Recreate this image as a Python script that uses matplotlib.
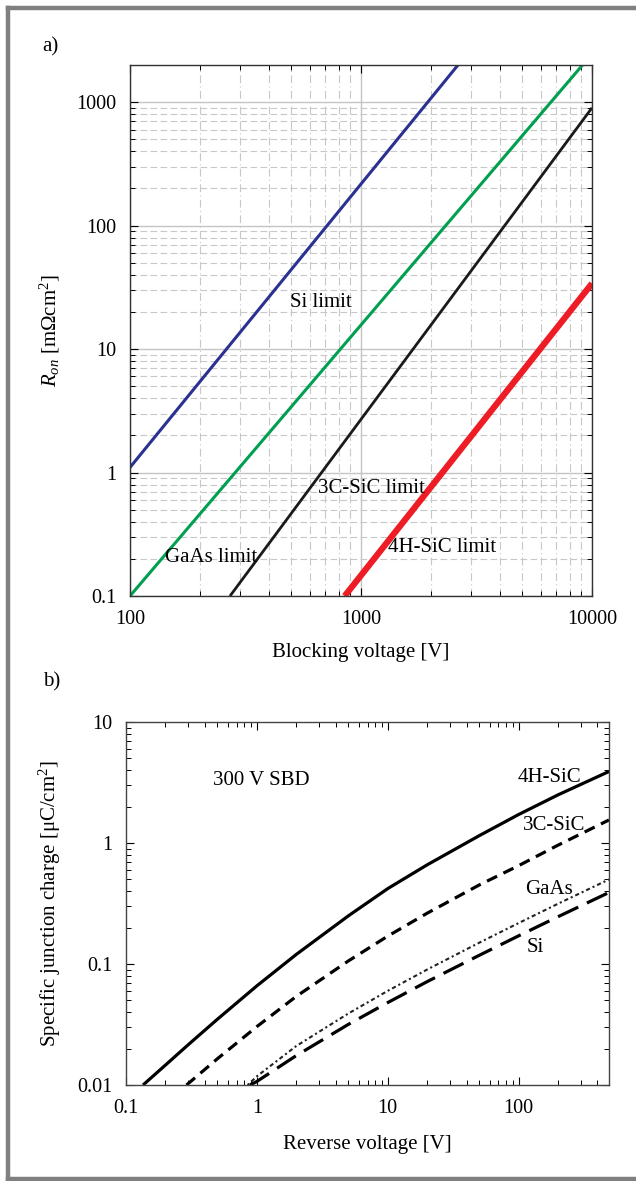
import matplotlib
matplotlib.use("Agg")
import matplotlib.pyplot as plt
from matplotlib.lines import Line2D
from matplotlib.ticker import FuncFormatter, NullFormatter

plt.rcParams["font.family"] = ["Liberation Serif", "DejaVu Serif"]
plt.rcParams["mathtext.fontset"] = "custom"
plt.rcParams["mathtext.rm"] = "Liberation Serif"
plt.rcParams["mathtext.it"] = "Liberation Serif:italic"

# a) specific on-resistance limits (end points of the straight lines)
si_v = [100, 2630]
si_r = [1.1, 2000]
gaas_v = [100, 9100]
gaas_r = [0.1, 2000]
sic3c_v = [271, 10000]
sic3c_r = [0.1, 900]
sic4h_v = [850, 10000]
sic4h_r = [0.1, 34]

# b) specific junction charge vs reverse voltage, 300 V SBD
q4h_v = [0.135, 0.2, 0.3, 0.5, 1, 2, 5, 10, 20, 50, 100, 200, 490]
q4h = [0.010, 0.0146, 0.0216, 0.035, 0.066, 0.12, 0.25, 0.42, 0.66, 1.15, 1.72, 2.5, 3.9]
q3c_v = [0.29, 0.5, 1, 2, 5, 10, 20, 50, 100, 200, 490]
q3c = [0.010, 0.0165, 0.0304, 0.054, 0.106, 0.17, 0.263, 0.45, 0.65, 0.96, 1.55]
qgaas_v = [0.85, 1, 2, 5, 10, 20, 50, 100, 200, 490]
qgaas = [0.010, 0.0118, 0.021, 0.039, 0.060, 0.090, 0.150, 0.218, 0.315, 0.50]
qsi_v = [0.885, 1, 2, 5, 10, 20, 50, 100, 200, 490]
qsi = [0.010, 0.0107, 0.0175, 0.0317, 0.048, 0.0715, 0.118, 0.171, 0.246, 0.39]

W, H = 636, 1181
fig = plt.figure(figsize=(W / 100, H / 100), dpi=100)

# grey frame (top, left, bottom)
gray = "#808080"
fig.add_artist(Line2D([8 / W, 1.0], [1 - 8 / H, 1 - 8 / H], color=gray, lw=3.2, transform=fig.transFigure))
fig.add_artist(Line2D([8 / W, 8 / W], [1 - 8 / H, 1 - 1179 / H], color=gray, lw=3.2, transform=fig.transFigure))
fig.add_artist(Line2D([8 / W, 1.0], [1 - 1179 / H, 1 - 1179 / H], color=gray, lw=3.2, transform=fig.transFigure))

fmt = FuncFormatter(lambda v, p: "%g" % v)
tick_fs = 14.5
lab_fs = 15

# ---------------- panel a ----------------
ax1 = fig.add_axes([130 / W, 1 - 596 / H, 462 / W, 531 / H])
ax1.set_xscale("log")
ax1.set_yscale("log")
ax1.set_xlim(100, 10000)
ax1.set_ylim(0.1, 2000)

ax1.grid(which="major", color="#c4c4c4", lw=1.0, ls="-")
ax1.xaxis.grid(which="minor", color="#c8c8c8", lw=0.8, ls=(0, (7, 3, 1, 3)))
ax1.yaxis.grid(which="minor", color="#c8c8c8", lw=0.8, ls=(0, (6, 3)))
ax1.set_axisbelow(True)

ax1.plot(si_v, si_r, color="#2b3190", lw=2.2, solid_capstyle="butt")
ax1.plot(gaas_v, gaas_r, color="#00a050", lw=2.2, solid_capstyle="butt")
ax1.plot(sic3c_v, sic3c_r, color="#1a1a1a", lw=2.0, solid_capstyle="butt")
ax1.plot(sic4h_v, sic4h_r, color="#ee1c24", lw=4.5, solid_capstyle="butt")

ax1.text(0.346, 0.552, "Si limit", transform=ax1.transAxes, fontsize=lab_fs, va="center")
ax1.text(0.075, 0.072, "GaAs limit", transform=ax1.transAxes, fontsize=lab_fs, va="center")
ax1.text(0.407, 0.202, "3C-SiC limit", transform=ax1.transAxes, fontsize=lab_fs, va="center")
ax1.text(0.558, 0.091, "4H-SiC limit", transform=ax1.transAxes, fontsize=lab_fs, va="center")

ax1.xaxis.set_major_formatter(fmt)
ax1.yaxis.set_major_formatter(fmt)
ax1.xaxis.set_minor_formatter(NullFormatter())
ax1.yaxis.set_minor_formatter(NullFormatter())
ax1.tick_params(which="both", direction="in", top=True, right=True, labelsize=tick_fs, pad=10)
ax1.tick_params(which="major", length=6, width=0.8)
ax1.tick_params(which="minor", length=3.5, width=0.7)
for s in ax1.spines.values():
    s.set_color("#333333")
    s.set_linewidth(1.0)

ax1.set_xlabel("Blocking voltage [V]", fontsize=lab_fs, labelpad=10)
ax1.set_ylabel(r"$R_{on}$ [mΩcm$^2$]", fontsize=lab_fs, labelpad=10)
fig.text(42 / W, 1 - 47 / H, "a)", fontsize=lab_fs, va="center")

# ---------------- panel b ----------------
ax2 = fig.add_axes([126 / W, 1 - 1085 / H, 483 / W, 363 / H])
ax2.set_xscale("log")
ax2.set_yscale("log")
ax2.set_xlim(0.1, 490)
ax2.set_ylim(0.01, 10)

ax2.plot(q4h_v, q4h, color="black", lw=2.3, solid_capstyle="butt")
ax2.plot(q3c_v, q3c, color="black", lw=2.3, ls=(0, (3.5, 2.2)))
ax2.plot(qgaas_v, qgaas, color="#222222", lw=1.5, ls=(0, (1, 1.4, 2, 1.4)))
ax2.plot(qsi_v, qsi, color="black", lw=2.3, ls=(0, (7, 3)))

ax2.text(0.18, 0.84, "300 V SBD", transform=ax2.transAxes, fontsize=lab_fs, va="center")
ax2.text(0.81, 0.848, "4H-SiC", transform=ax2.transAxes, fontsize=lab_fs, va="center")
ax2.text(0.822, 0.716, "3C-SiC", transform=ax2.transAxes, fontsize=lab_fs, va="center")
ax2.text(0.826, 0.538, "GaAs", transform=ax2.transAxes, fontsize=lab_fs, va="center")
ax2.text(0.83, 0.378, "Si", transform=ax2.transAxes, fontsize=lab_fs, va="center")

ax2.xaxis.set_major_formatter(fmt)
ax2.yaxis.set_major_formatter(fmt)
ax2.xaxis.set_minor_formatter(NullFormatter())
ax2.yaxis.set_minor_formatter(NullFormatter())
ax2.tick_params(which="both", direction="in", top=True, right=True, labelsize=tick_fs, pad=10)
ax2.tick_params(which="major", length=6, width=0.8)
ax2.tick_params(which="minor", length=3.5, width=0.7)
for s in ax2.spines.values():
    s.set_color("#444444")
    s.set_linewidth(1.0)

ax2.set_xlabel("Reverse voltage [V]", fontsize=lab_fs, labelpad=12)
ax2.set_ylabel(r"Specific junction charge [μC/cm$^2$]", fontsize=lab_fs, labelpad=10)
fig.text(43 / W, 1 - 682 / H, "b)", fontsize=lab_fs, va="center")

fig.savefig("out.png", dpi=100)
